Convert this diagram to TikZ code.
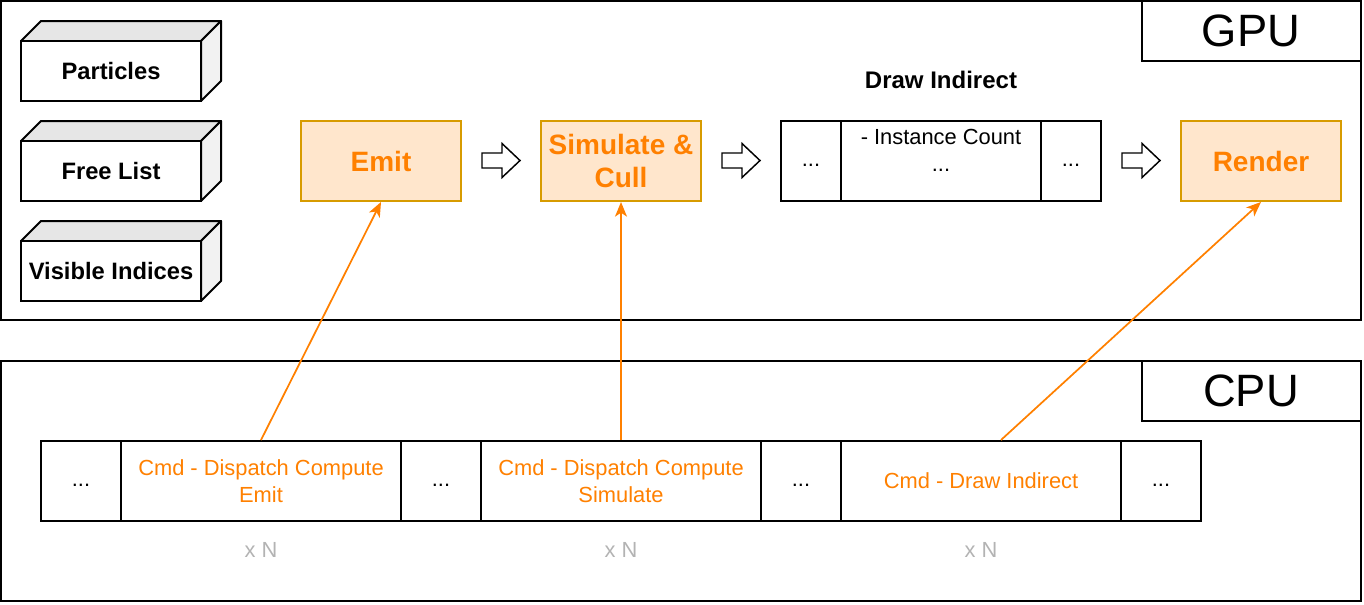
\documentclass[tikz,border=0pt]{standalone}
\usepackage{fontspec}
\setmainfont{Liberation Sans}
\usetikzlibrary{arrows.meta}
\definecolor{ofill}{HTML}{FFE6CC}
\definecolor{odraw}{HTML}{D79B00}
\definecolor{otext}{HTML}{FF8000}
\definecolor{xgray}{HTML}{B3B3B3}
\definecolor{ctop}{HTML}{E6E6E6}
\definecolor{cside}{HTML}{F2F2F2}
\tikzset{
  frame/.style={draw=black, line width=1.5pt},
  orangebox/.style={draw=odraw, fill=ofill, line width=1.5pt, text=otext, font=\fontsize{21}{25}\selectfont\bfseries, minimum width=120pt, minimum height=60pt, inner sep=0pt, align=center},
  cell/.style={draw=black, line width=1.5pt, minimum height=60pt, inner sep=0pt, align=center, font=\fontsize{16.4}{20.2}\selectfont},
  cmdcell/.style={cell, text=otext},
  celltext/.style={inner sep=0pt, align=center, font=\fontsize{16.4}{20.2}\selectfont},
  cubefront/.style={draw=black, fill=white, line width=1.5pt, minimum width=135pt, minimum height=45pt, inner sep=0pt, font=\fontsize{17.8}{21}\selectfont\bfseries},
  facetop/.style={draw=black, fill=ctop, line width=1.5pt, line join=round},
  faceside/.style={draw=black, fill=cside, line width=1.5pt, line join=round},
  labelbox/.style={draw=black, line width=1.5pt, minimum width=164.25pt, minimum height=45pt, inner sep=0pt, font=\fontsize{34}{40}\selectfont},
  xn/.style={text=xgray, font=\fontsize{16.4}{20}\selectfont},
  oarrow/.style={draw=otext, line width=1.3pt, -{Stealth[length=11pt, width=9pt, inset=3pt]}},
  barrow/.pic={\draw[line width=1.1pt, line join=miter, fill=white] (-19,-7.5) -- (1,-7.5) -- (1,-17) -- (19,0) -- (1,17) -- (1,7.5) -- (-19,7.5) -- cycle;}
}
\begin{document}
\begin{tikzpicture}[x=0.75pt, y=-0.75pt]
\useasboundingbox (0,0) rectangle (1364,604);
% frames
\draw[frame] (1,1) rectangle (1361,320);
\node[labelbox] (gpu) at (1251,31) {GPU};
\draw[frame] (1,361) rectangle (1361,601);
\node[labelbox] (cpu) at (1251,391) {CPU};
% cubes
\foreach \y/\t/\n in {41/Particles/cpart, 141/Free List/cfree, 241/Visible Indices/cvis}{
  \draw[facetop] (21,\y) -- (41,\y-20) -- (221,\y-20) -- (201,\y) -- cycle;
  \draw[faceside] (201,\y) -- (221,\y-20) -- (221,\y+40) -- (201,\y+60) -- cycle;
  \node[cubefront] (\n) at (111,\y+30) {\t};
}
% GPU pipeline
\node[orangebox] (emit) at (381,161) {Emit};
\node[orangebox] (sim) at (621,161) {Simulate \&\\Cull};
\node[font=\fontsize{18}{22}\selectfont\bfseries] (dil) at (941,80) {Draw Indirect};
\node[cell, minimum width=45pt] (d1) at (811,161) {...\strut};
\node[cell, minimum width=150pt] (d2) at (941,161) {};
\node[celltext] (d2t) at (941,154) {- Instance Count\\...\strut};
\node[cell, minimum width=45pt] (d3) at (1071,161) {...\strut};
\node[orangebox] (render) at (1261,161) {Render};
\pic (a1) at (501,160.5) {barrow};
\pic (a2) at (741,160.5) {barrow};
\pic (a3) at (1141,160.5) {barrow};
% CPU command list
\node[cell, minimum width=60pt] (c1) at (81,481) {...\strut};
\node[cmdcell, minimum width=210pt] (c2) at (261,481) {Cmd - Dispatch Compute\\Emit};
\node[cell, minimum width=60pt] (c3) at (441,481) {...\strut};
\node[cmdcell, minimum width=210pt] (c4) at (621,481) {Cmd - Dispatch Compute\\Simulate};
\node[cell, minimum width=60pt] (c5) at (801,481) {...\strut};
\node[cmdcell, minimum width=210pt] (c6) at (981,481) {Cmd - Draw Indirect};
\node[cell, minimum width=60pt] (c7) at (1161,481) {...\strut};
\node[xn] (x1) at (261,550) {x N};
\node[xn] (x2) at (621,550) {x N};
\node[xn] (x3) at (981,550) {x N};
% connectors
\draw[oarrow] (c2.north) -- (emit.south);
\draw[oarrow] (c4.north) -- (sim.south);
\draw[oarrow] ([xshift=15pt]c6.north) -- (render.south);
\end{tikzpicture}
\end{document}
